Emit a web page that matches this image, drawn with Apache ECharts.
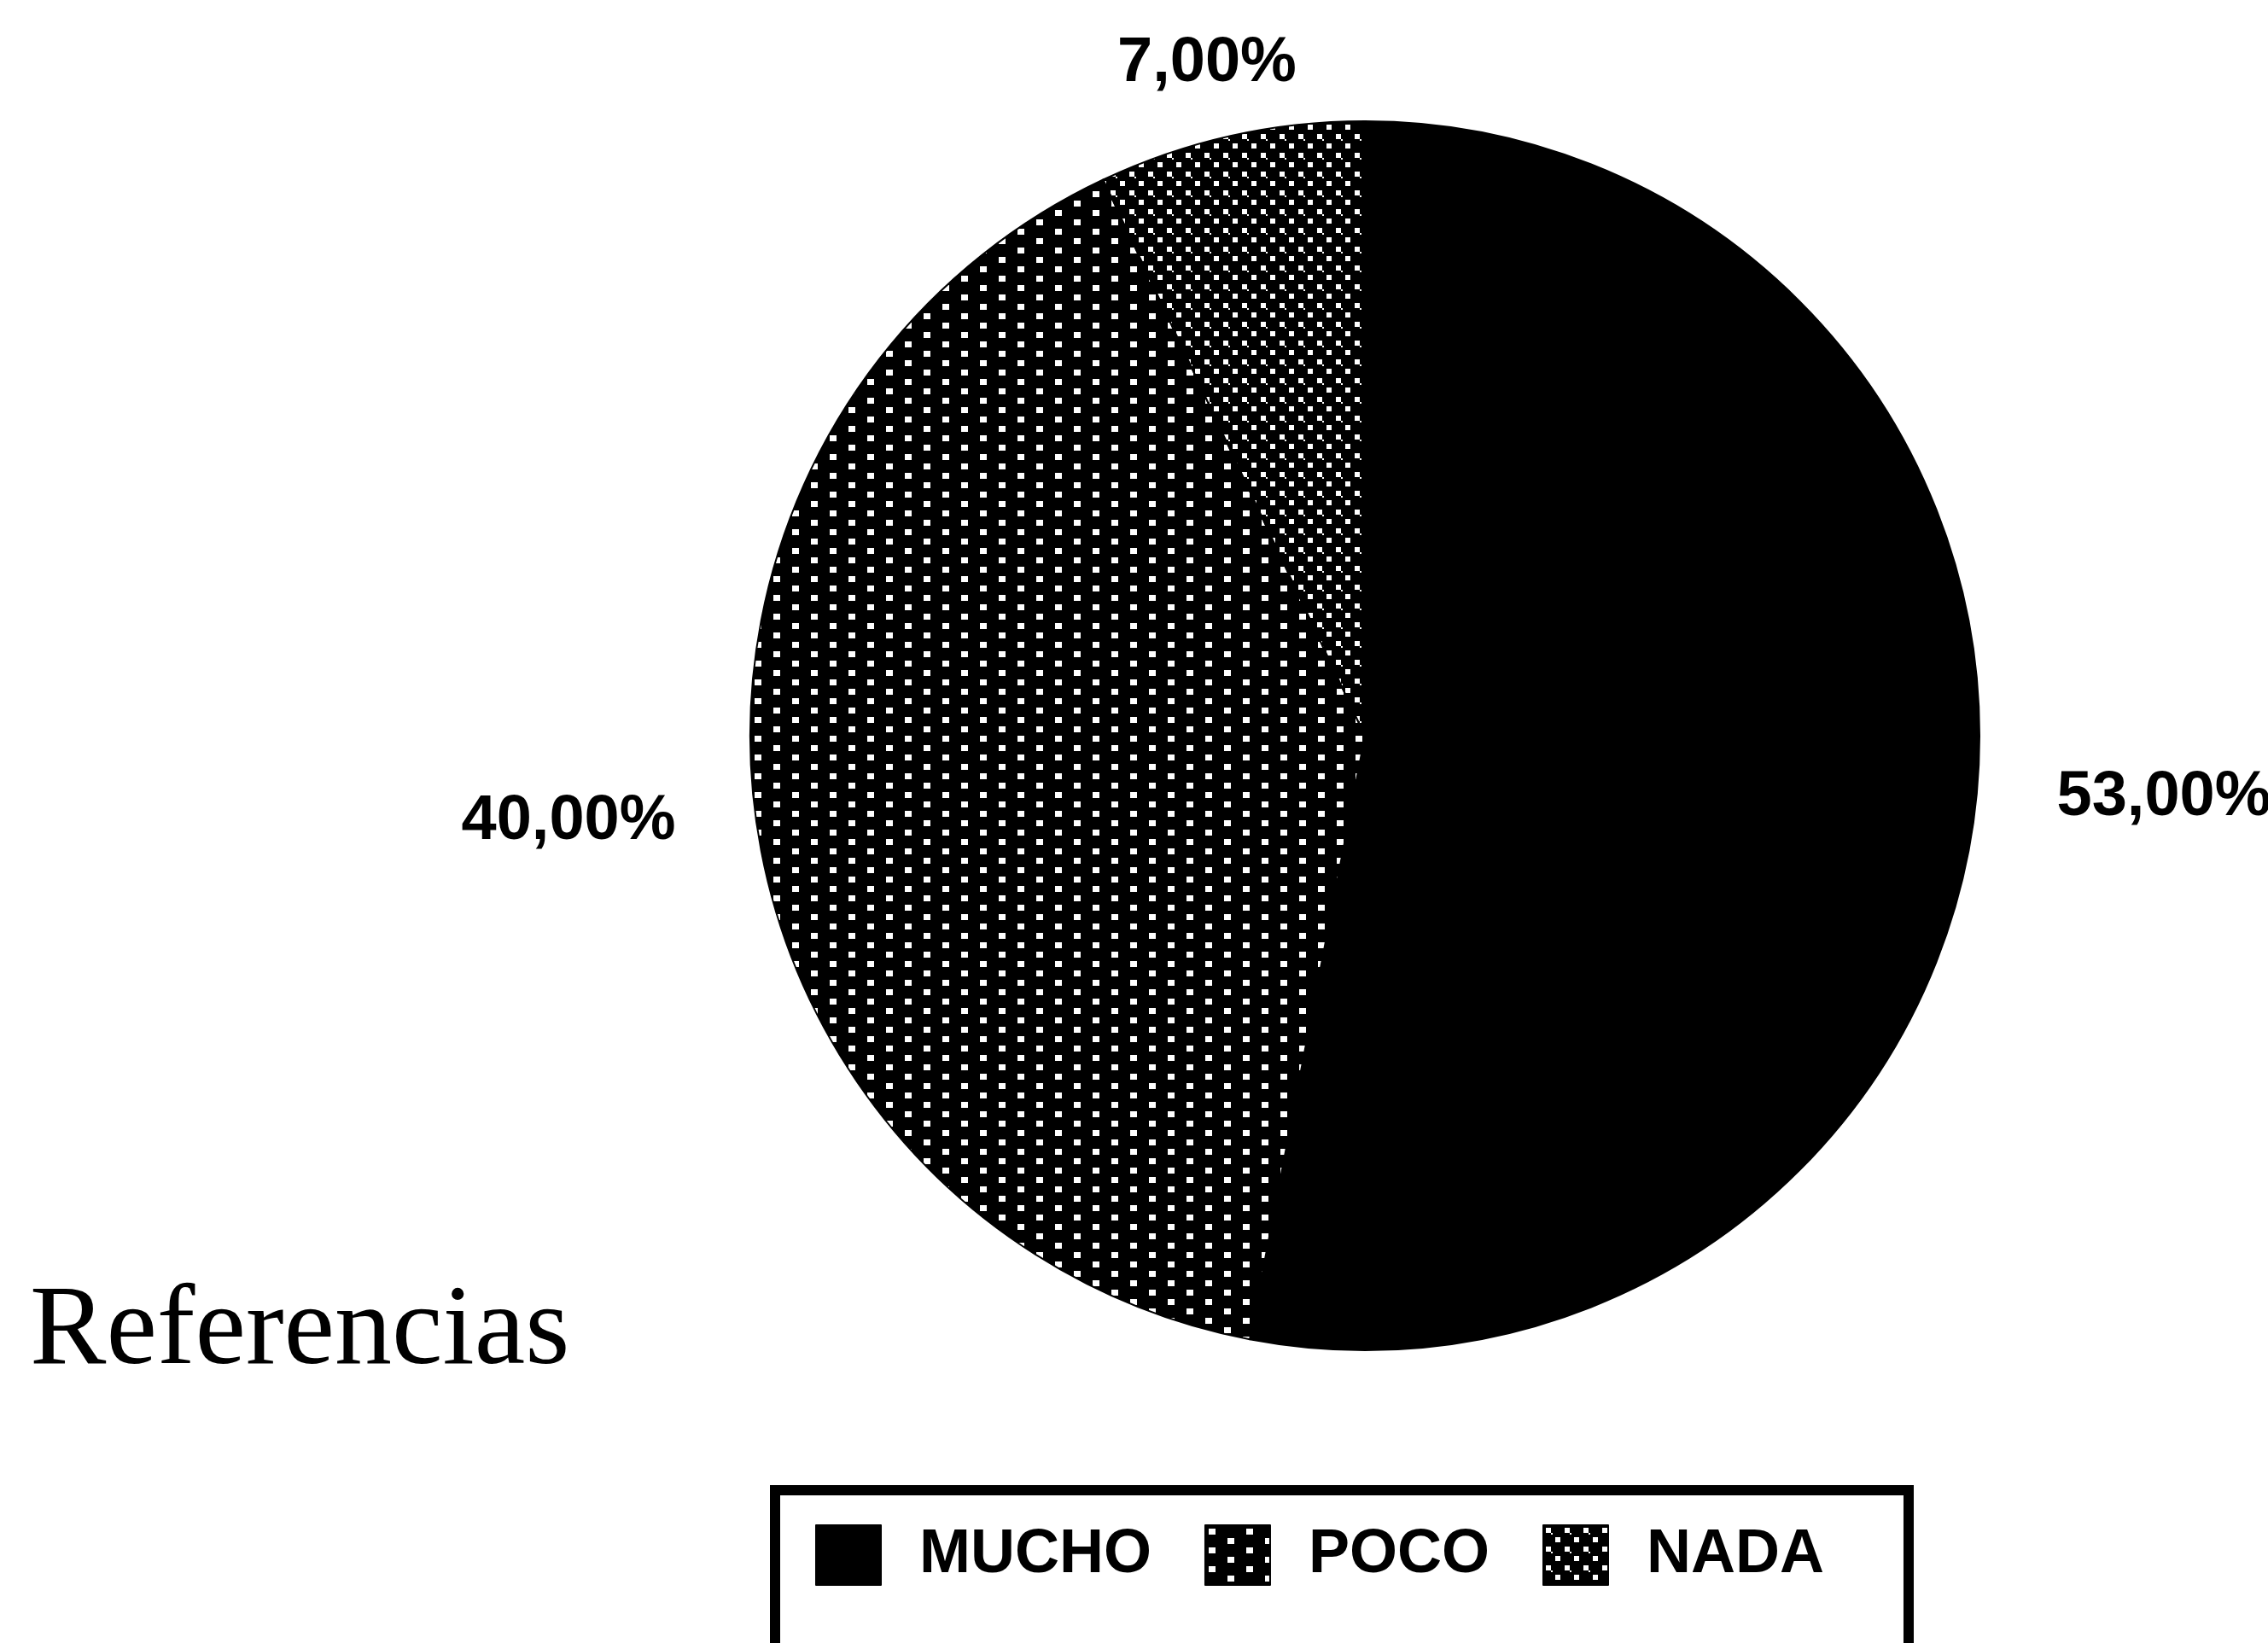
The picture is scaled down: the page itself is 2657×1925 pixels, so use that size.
<!DOCTYPE html>
<html>
<head>
<meta charset="utf-8">
<script src="https://cdn.jsdelivr.net/npm/echarts@6/dist/echarts.min.js"></script>
<style>
html,body{margin:0;padding:0;background:#fff;}
#chart{width:2657px;height:1925px;}
</style>
</head>
<body>
<div id="chart"></div>
<script>
// ---- data ----
const categories = ['MUCHO', 'POCO', 'NADA'];
const values = [53, 40, 7];
const legendTitle = 'Referencias';

// ---- styling / layout config ----
const CENTER = [1599, 862];
const RADIUS = 720;
// label anchor points (text centres), one per slice
const LABEL_POS = [[2535, 935], [666, 963], [1414, 75]];

function makePattern(kind) {
  const c = document.createElement('canvas');
  const ctx = c.getContext('2d');
  if (kind === 'poco') {
    c.width = 44; c.height = 22;
    ctx.fillStyle = '#000'; ctx.fillRect(0, 0, 44, 22);
    ctx.fillStyle = '#fff';
    ctx.fillRect(4, 4, 8, 7);
    ctx.fillRect(26, 15, 8, 7);
  } else {
    c.width = 22; c.height = 22;
    ctx.fillStyle = '#000'; ctx.fillRect(0, 0, 22, 22);
    ctx.fillStyle = '#fff';
    ctx.fillRect(3, 3, 6, 6);
    ctx.fillRect(14, 14, 6, 6);
    ctx.fillRect(9, 9, 2, 2);
  }
  return c;
}
const fills = [
  '#000000',
  { image: makePattern('poco'), repeat: 'repeat' },
  { image: makePattern('nada'), repeat: 'repeat' }
];

const chart = echarts.init(document.getElementById('chart'), null, { renderer: 'canvas' });
chart.setOption({
  backgroundColor: '#ffffff',
  animation: false,
  title: {
    text: legendTitle,
    left: 30,
    top: 1490,
    textStyle: {
      fontFamily: '"Liberation Serif", "Times New Roman", serif',
      fontSize: 134,
      fontWeight: 'normal',
      color: '#000'
    }
  },
  legend: {
    orient: 'horizontal',
    left: 908,
    top: 1746,
    padding: [40, 99, 300, 47],
    borderColor: '#000',
    borderWidth: 12,
    itemWidth: 76,
    itemHeight: 70,
    itemGap: 62,
    icon: 'rect',
    textStyle: {
      fontFamily: '"Liberation Sans", Arial, sans-serif',
      fontWeight: 'bold',
      fontSize: 72,
      color: '#000',
      padding: [0, 0, 0, 40]
    },
    data: [
      { name: categories[0] },
      { name: categories[1], textStyle: { padding: [0, 58, 0, 40] } },
      { name: categories[2] }
    ]
  },
  series: [{
    type: 'pie',
    center: CENTER,
    radius: RADIUS,
    startAngle: 90,
    clockwise: true,
    avoidLabelOverlap: false,
    itemStyle: { borderColor: '#000', borderWidth: 2 },
    emphasis: { disabled: true },
    label: {
      show: true,
      position: 'outside',
      fontFamily: '"Liberation Sans", Arial, sans-serif',
      fontWeight: 'bold',
      fontSize: 74,
      color: '#000',
      formatter: p => p.value.toFixed(2).replace('.', ',') + '%'
    },
    labelLine: { show: false },
    labelLayout: function (params) {
      const p = LABEL_POS[params.dataIndex];
      return { x: p[0], y: p[1], align: 'center', verticalAlign: 'middle' };
    },
    data: categories.map((c, i) => ({ name: c, value: values[i], itemStyle: { color: fills[i] } }))
  }]
});
</script>
</body>
</html>
